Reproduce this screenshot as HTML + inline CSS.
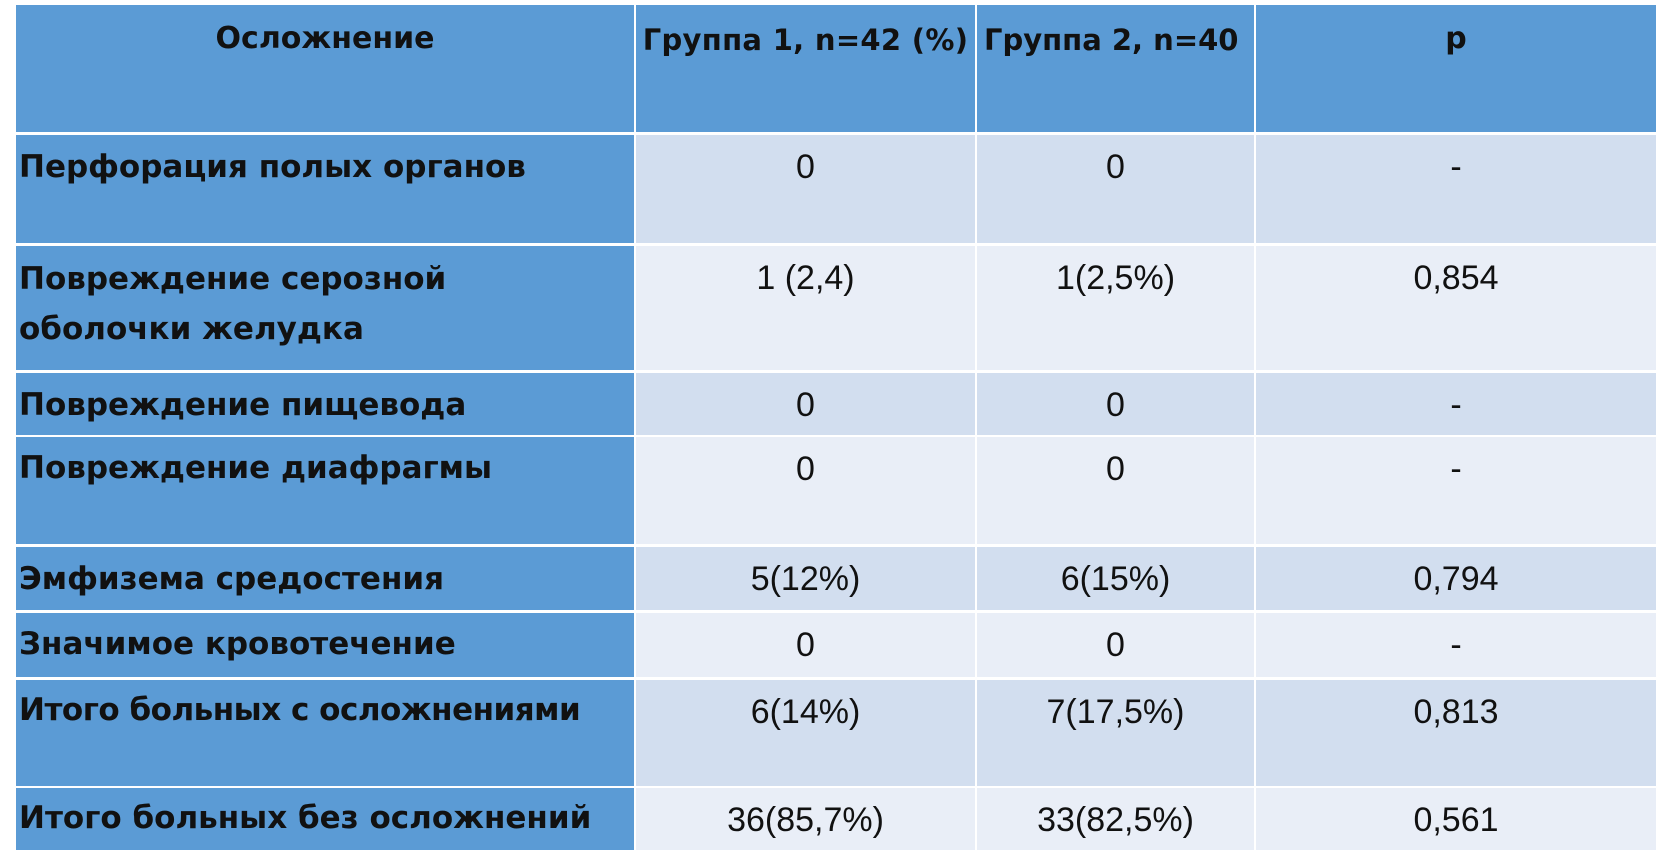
<!DOCTYPE html>
<html><head><meta charset="utf-8"><style>
body{margin:0;width:1656px;height:863px;background:#fff;position:relative;overflow:hidden}
.c{position:absolute;box-sizing:border-box;color:#111}
.h{background:#5b9bd5;font-family:"DejaVu Sans",sans-serif;font-weight:bold;font-size:30px;text-align:center;padding-top:16px;white-space:nowrap}
.f{background:#5b9bd5;font-family:"DejaVu Sans",sans-serif;font-weight:bold;font-size:31px;padding-left:3px;padding-top:18px;line-height:50px;white-space:nowrap}
.a{background:#d2deef}
.b{background:#e9eef7}
.d{font-family:"Liberation Sans",sans-serif;font-size:34px;text-align:center;padding-top:11px;line-height:42px}
</style></head><body>
<div class="c h" style="left:16px;top:5px;width:618px;height:127px">Осложнение</div>
<div class="c h" style="left:636px;top:5px;width:339px;height:127px;font-size:29px;letter-spacing:0.3px;padding-top:18px">Группа 1, n=42 (%)</div>
<div class="c h" style="left:977px;top:5px;width:277px;height:127px;font-size:29px;text-align:left;padding-left:7px;padding-top:18px">Группа 2, n=40</div>
<div class="c h" style="left:1256px;top:5px;width:400px;height:127px">p</div>

<div class="c f" style="left:16px;top:135px;width:618px;height:108px;line-height:34px;padding-top:15px">Перфорация полых органов</div>
<div class="c a d" style="left:636px;top:135px;width:339px;height:108px">0</div>
<div class="c a d" style="left:977px;top:135px;width:277px;height:108px">0</div>
<div class="c a d" style="left:1256px;top:135px;width:400px;height:108px">-</div>

<div class="c f" style="left:16px;top:246px;width:618px;height:124px;line-height:50px;padding-top:8px">Повреждение серозной<br>оболочки желудка</div>
<div class="c b d" style="left:636px;top:246px;width:339px;height:124px">1 (2,4)</div>
<div class="c b d" style="left:977px;top:246px;width:277px;height:124px">1(2,5%)</div>
<div class="c b d" style="left:1256px;top:246px;width:400px;height:124px">0,854</div>

<div class="c f" style="left:16px;top:373px;width:618px;height:62px;line-height:34px;padding-top:15px">Повреждение пищевода</div>
<div class="c a d" style="left:636px;top:373px;width:339px;height:62px">0</div>
<div class="c a d" style="left:977px;top:373px;width:277px;height:62px">0</div>
<div class="c a d" style="left:1256px;top:373px;width:400px;height:62px">-</div>

<div class="c f" style="left:16px;top:437px;width:618px;height:107px;line-height:34px;padding-top:14px">Повреждение диафрагмы</div>
<div class="c b d" style="left:636px;top:437px;width:339px;height:107px">0</div>
<div class="c b d" style="left:977px;top:437px;width:277px;height:107px">0</div>
<div class="c b d" style="left:1256px;top:437px;width:400px;height:107px">-</div>

<div class="c f" style="left:16px;top:547px;width:618px;height:63px;line-height:34px;padding-top:15px">Эмфизема средостения</div>
<div class="c a d" style="left:636px;top:547px;width:339px;height:63px">5(12%)</div>
<div class="c a d" style="left:977px;top:547px;width:277px;height:63px">6(15%)</div>
<div class="c a d" style="left:1256px;top:547px;width:400px;height:63px">0,794</div>

<div class="c f" style="left:16px;top:613px;width:618px;height:64px;line-height:34px;padding-top:14px">Значимое кровотечение</div>
<div class="c b d" style="left:636px;top:613px;width:339px;height:64px">0</div>
<div class="c b d" style="left:977px;top:613px;width:277px;height:64px">0</div>
<div class="c b d" style="left:1256px;top:613px;width:400px;height:64px">-</div>

<div class="c f" style="left:16px;top:680px;width:618px;height:106px;line-height:34px;padding-top:13px;letter-spacing:-0.5px">Итого больных с осложнениями</div>
<div class="c a d" style="left:636px;top:680px;width:339px;height:106px">6(14%)</div>
<div class="c a d" style="left:977px;top:680px;width:277px;height:106px">7(17,5%)</div>
<div class="c a d" style="left:1256px;top:680px;width:400px;height:106px">0,813</div>

<div class="c f" style="left:16px;top:788px;width:618px;height:62px;line-height:34px;padding-top:13px">Итого больных без осложнений</div>
<div class="c b d" style="left:636px;top:788px;width:339px;height:62px">36(85,7%)</div>
<div class="c b d" style="left:977px;top:788px;width:277px;height:62px">33(82,5%)</div>
<div class="c b d" style="left:1256px;top:788px;width:400px;height:62px">0,561</div>
</body></html>
